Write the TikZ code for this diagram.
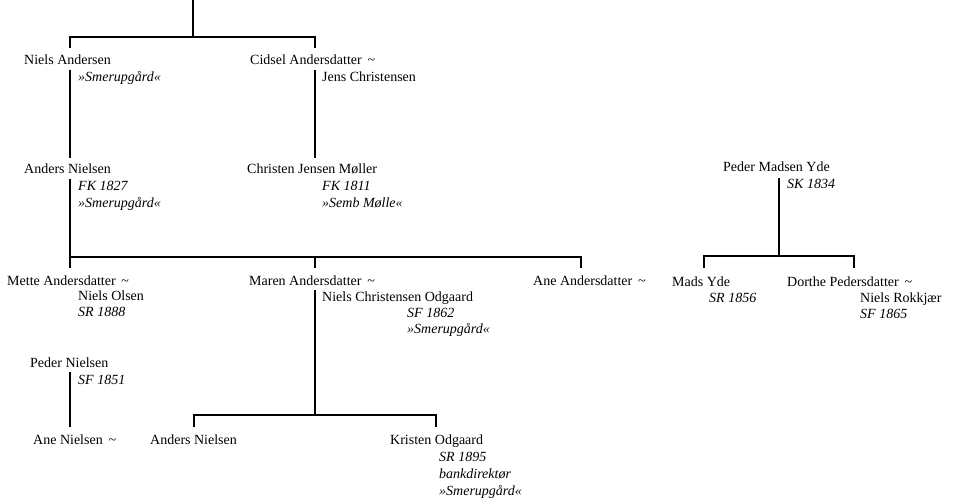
\documentclass[tikz,border=0pt]{standalone}
\usepackage{fontspec}
\setmainfont{Liberation Serif}
\tikzset{
  nm/.style={anchor=base west, inner sep=0pt, font=\fontsize{14}{16}\selectfont},
  nt/.style={nm, font=\fontsize{14}{16}\selectfont\itshape},
  tree/.style={line width=1.5pt},
}
\begin{document}
\begin{tikzpicture}[x=1pt,y=-1pt]
\useasboundingbox (0,0) rectangle (955,500);

% first generation
\node[nm] (nielsA) at (24,65) {Niels Andersen};
\node[nt] (nielsAg) at (78,82) {»Smerupgård«};
\node[nm] (cidsel) at (250,65) {Cidsel Andersdatter \,\textasciitilde};
\node[nm] (jensC) at (322,82) {Jens Christensen};

% second generation
\node[nm] (andersN) at (24,173) {Anders Nielsen};
\node[nt] (andersNk) at (78,190) {FK 1827};
\node[nt] (andersNg) at (78,207) {»Smerupgård«};
\node[nm] (christen) at (247,173) {Christen Jensen Møller};
\node[nt] (christenk) at (322,190) {FK 1811};
\node[nt] (christeng) at (322,207) {»Semb Mølle«};

\node[nm] (pederMY) at (723,171) {Peder Madsen Yde};
\node[nt] (pederMYk) at (787,188) {SK 1834};

% third generation
\node[nm] (mette) at (7,285) {Mette Andersdatter \,\textasciitilde};
\node[nm] (nielsO) at (78,300) {Niels Olsen};
\node[nt] (nielsOk) at (78,316) {SR 1888};
\node[nm] (maren) at (249,285) {Maren Andersdatter \,\textasciitilde};
\node[nm] (nielsCO) at (322,301) {Niels Christensen Odgaard};
\node[nt] (nielsCOk) at (407,317) {SF 1862};
\node[nt] (nielsCOg) at (407,333) {»Smerupgård«};
\node[nm] (aneA) at (533,285) {Ane Andersdatter \,\textasciitilde};

\node[nm] (madsY) at (672,286) {Mads Yde};
\node[nt] (madsYk) at (709,302) {SR 1856};
\node[nm] (dorthe) at (787,286) {Dorthe Pedersdatter \,\textasciitilde};
\node[nm] (nielsR) at (860,302) {Niels Rokkjær};
\node[nt] (nielsRk) at (860,318) {SF 1865};

% fourth generation
\node[nm] (pederN) at (30,367) {Peder Nielsen};
\node[nt] (pederNk) at (78,384) {SF 1851};
\node[nm] (aneN) at (33,444) {Ane Nielsen \,\textasciitilde};
\node[nm] (andersN2) at (150,444) {Anders Nielsen};
\node[nm] (kristen) at (390,444) {Kristen Odgaard};
\node[nt] (kristenk) at (439,461) {SR 1895};
\node[nt] (kristenb) at (439,478) {bankdirektør};
\node[nt] (kristeng) at (439,495) {»Smerupgård«};

% line ends
\coordinate (top) at (193,0);
\coordinate (topj) at (193,37);
\coordinate (nAt) at (70,48);
\coordinate (nAb) at (70,70);
\coordinate (cIt) at (315,48);
\coordinate (cIb) at (315,70);
\coordinate (aNt) at (70,158);
\coordinate (aNb) at (70,179);
\coordinate (cJt) at (315,158);
\coordinate (meT) at (70,268);
\coordinate (maT) at (315,268);
\coordinate (aaT) at (581,268);
\coordinate (maB) at (315,290);
\coordinate (maJ) at (315,415);
\coordinate (a2T) at (194,427);
\coordinate (krT) at (436,427);
\coordinate (pNb) at (70,372);
\coordinate (anT) at (70,427);
\coordinate (pmB) at (779,178);
\coordinate (pmJ) at (779,256);
\coordinate (myT) at (704,268);
\coordinate (doT) at (854,268);

% tree lines
\draw[tree] (top) -- (topj);
\draw[tree] (nAt) |- (topj) -| (cIt);
\draw[tree] (nAb) -- (aNt);
\draw[tree] (cIb) -- (cJt);
\draw[tree] (aNb) -- (meT);
\draw[tree] (70,257) -| (aaT);
\draw[tree] (315,257) -- (maT);
\draw[tree] (maB) -- (maJ);
\draw[tree] (a2T) |- (maJ) -| (krT);
\draw[tree] (pNb) -- (anT);
\draw[tree] (pmB) -- (pmJ);
\draw[tree] (myT) |- (pmJ) -| (doT);

\end{tikzpicture}
\end{document}
